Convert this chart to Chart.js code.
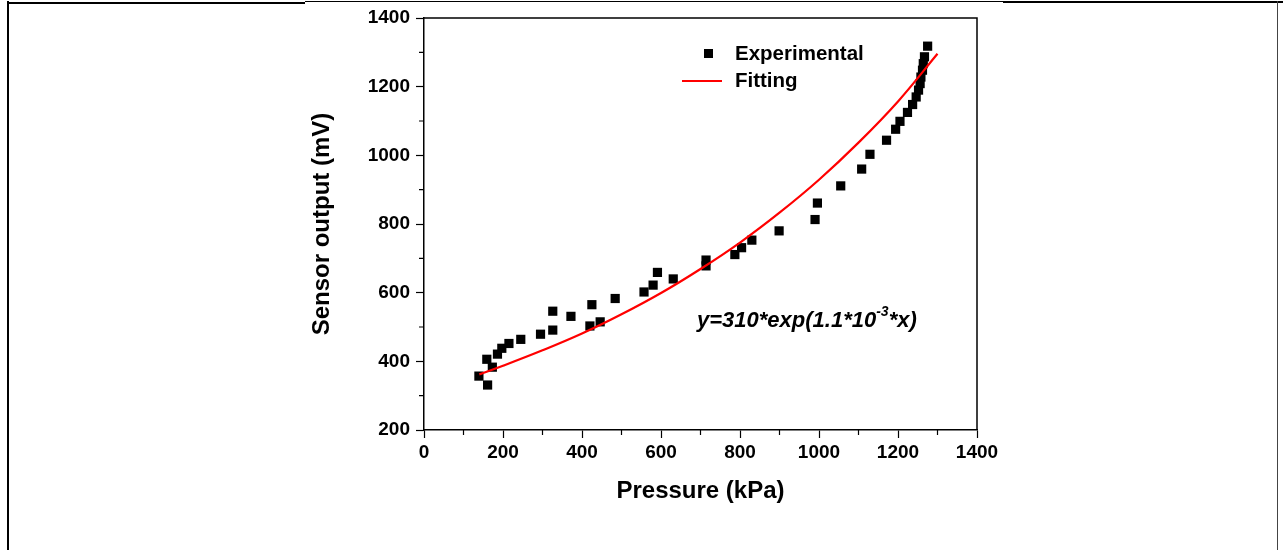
<!DOCTYPE html>
<html>
<head>
<meta charset="utf-8">
<script src="https://cdn.jsdelivr.net/npm/chart.js@4"></script>
<style>
  body { margin: 0; background: #fff; }
  #wrap { position: relative; width: 1283px; height: 550px; }
  .edge { position: absolute; background: #000; }
</style>
</head>
<body>
<div id="wrap">
  <canvas id="sensorChart" width="1283" height="550"></canvas>
  <div class="edge" style="left:7px;top:1px;width:2px;height:549px"></div>
  <div class="edge" style="left:7px;top:2px;width:298px;height:2px"></div>
  <div class="edge" style="left:305px;top:1px;width:698px;height:1px"></div>
  <div class="edge" style="left:1003px;top:1px;width:280px;height:2px"></div>
  <div class="edge" style="left:1277px;top:1px;width:1px;height:549px;background:#444"></div>
</div>
<script>
// measured points (pressure kPa, sensor output mV)
const pressure = [139, 161, 159, 173, 186, 197, 215, 245, 295, 326, 326, 372, 420, 446, 425, 484,
    557, 580, 591, 631, 714, 714, 787, 804, 830, 899, 990, 996, 1055, 1108, 1129, 1171,
    1194, 1205, 1224, 1237, 1246, 1252, 1256, 1258, 1262, 1264, 1267, 1275];
const output = [357, 331, 406, 383, 421, 438, 452, 464, 479, 491, 546, 531, 503, 515, 565, 583,
    602, 622, 659, 640, 695, 678, 711, 731, 753, 780, 813, 861, 911, 960, 1003, 1044,
    1076, 1099, 1125, 1148, 1170, 1190, 1209, 1228, 1248, 1267, 1287, 1318];

// fitted curve
const fitX = [140, 200, 300, 400, 500, 600, 700, 800, 900, 1000, 1100, 1200, 1300];
const fitY = [362, 387, 432, 481, 537, 599, 669, 746, 833, 929, 1037, 1157, 1296];

const xTicks = [0, 200, 400, 600, 800, 1000, 1200, 1400];
const yTicks = [200, 400, 600, 800, 1000, 1200, 1400];

const tickFont = { family: 'Liberation Sans, Arial, sans-serif', size: 19, weight: 'bold' };
const titleFont = { family: 'Liberation Sans, Arial, sans-serif', size: 24, weight: 'bold' };

// box on top/right, minor ticks, legend and equation
const extras = {
    id: 'extras',
    afterDraw(chart) {
        const c = chart.ctx, a = chart.chartArea;
        const xs = chart.scales.x, ys = chart.scales.y;
        c.save();
        c.strokeStyle = '#000';
        c.lineWidth = 1.5;
        c.beginPath();
        c.moveTo(a.left, a.top); c.lineTo(a.right, a.top); c.lineTo(a.right, a.bottom);
        c.stroke();
        c.lineWidth = 1.2;
        c.beginPath();
        for (let v = 100; v < 1400; v += 200) {
            const px = xs.getPixelForValue(v);
            c.moveTo(px, a.bottom); c.lineTo(px, a.bottom + 5);
        }
        for (let v = 300; v < 1400; v += 200) {
            const py = ys.getPixelForValue(v);
            c.moveTo(a.left, py); c.lineTo(a.left - 5, py);
        }
        c.stroke();

        // legend
        c.fillStyle = '#000';
        c.fillRect(704, 49, 9, 9);
        c.strokeStyle = 'rgb(255,0,0)';
        c.lineWidth = 2;
        c.beginPath(); c.moveTo(682, 81); c.lineTo(722, 81); c.stroke();
        c.font = 'bold 20.5px Liberation Sans, Arial, sans-serif';
        c.textBaseline = 'middle';
        c.fillText('Experimental', 735, 54);
        c.fillText('Fitting', 735, 81);

        // equation
        c.font = 'italic bold 22px Liberation Sans, Arial, sans-serif';
        let x = 697;
        const s1 = 'y=310*exp(1.1*10';
        c.fillText(s1, x, 321);
        x += c.measureText(s1).width;
        c.font = 'italic bold 14px Liberation Sans, Arial, sans-serif';
        c.fillText('-3', x, 312);
        x += c.measureText('-3').width;
        c.font = 'italic bold 22px Liberation Sans, Arial, sans-serif';
        c.fillText('*x)', x, 321);
        c.restore();
    }
};

const ctx = document.getElementById('sensorChart').getContext('2d');
const sensorChart = new Chart(ctx, {
    type: 'scatter',
    data: {
        datasets: [{
            label: 'Fitting',
            data: fitX.map((v, i) => ({ x: v, y: fitY[i] })),
            showLine: true,
            borderColor: 'rgb(255,0,0)',
            borderWidth: 2.2,
            pointRadius: 0,
            tension: 0.4,
            order: 0
        }, {
            label: 'Experimental',
            data: pressure.map((v, i) => ({ x: v, y: output[i] })),
            pointStyle: 'rect',
            pointRadius: 6.5,
            pointBorderWidth: 0,
            backgroundColor: '#000',
            borderColor: '#000',
            order: 1
        }]
    },
    options: {
        responsive: false,
        animation: false,
        layout: { padding: { left: 308, right: 306, top: 18, bottom: 44 } },
        plugins: { legend: { display: false }, tooltip: { enabled: false } },
        scales: {
            x: {
                type: 'linear', min: 0, max: 1400,
                afterBuildTicks: s => { s.ticks = xTicks.map(v => ({ value: v })); },
                afterFit: s => { s.height = 76; },
                border: { color: '#000', width: 1.5 },
                grid: { drawOnChartArea: false, tickLength: 8, tickColor: '#000', tickWidth: 1.2 },
                ticks: { color: '#000', font: tickFont, padding: 3, maxRotation: 0, callback: v => String(v) },
                title: { display: true, text: 'Pressure (kPa)', color: '#000', font: titleFont, padding: 0 }
            },
            y: {
                type: 'linear', min: 200, max: 1400,
                afterBuildTicks: s => { s.ticks = yTicks.map(v => ({ value: v })); },
                afterFit: s => { s.width = 116; },
                border: { color: '#000', width: 1.5 },
                grid: { drawOnChartArea: false, tickLength: 8, tickColor: '#000', tickWidth: 1.2 },
                ticks: { color: '#000', font: tickFont, padding: 6, callback: v => String(v) },
                title: { display: true, text: 'Sensor output (mV)', color: '#000', font: titleFont, padding: 0 }
            }
        }
    },
    plugins: [extras]
});
</script>
</body>
</html>
